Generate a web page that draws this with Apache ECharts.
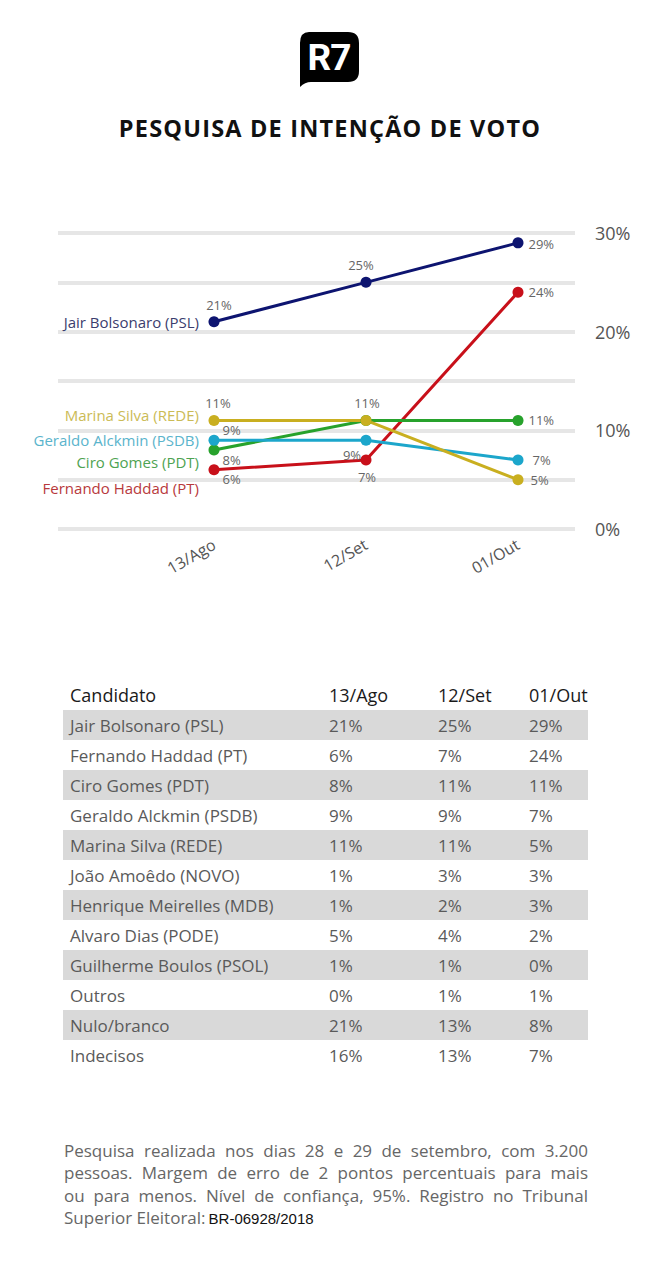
<!DOCTYPE html>
<html>
<head>
<meta charset="utf-8">
<script src="https://cdn.jsdelivr.net/npm/echarts@6/dist/echarts.min.js"></script>
<style>
  html, body { margin:0; padding:0; background:#fff; }
  body { width:660px; height:1281px; position:relative; overflow:hidden; font-family:'Open Sans', sans-serif; }
  #logo { position:absolute; left:298px; top:31px; }
  #title { position:absolute; left:0; width:660px; top:111px; text-align:center; font-weight:700; font-size:23.5px; letter-spacing:1.2px; color:#111; line-height:34px; }
  #chart { position:absolute; left:0; top:200px; width:660px; height:410px; }
  #tbl { position:absolute; left:63px; top:680px; width:525px; border-collapse:collapse; font-size:17px; }
  #tbl td { height:30px; padding:0 0 0 7px; color:#5a5a5a; white-space:nowrap; vertical-align:middle; }
  #tbl tr.hdr td { color:#1a1a1a; font-size:18px; }
  #tbl tr.g td { background:#d9d9d9; }
  #foot { position:absolute; left:64px; top:1140px; width:524px; font-size:17px; line-height:22.3px; color:#666; }
  #foot .ln { text-align:justify; text-align-last:justify; white-space:nowrap; }
  #foot .last { text-align:left; text-align-last:left; white-space:nowrap; }
  #foot .reg { font-family:'Liberation Sans', Arial, sans-serif; font-size:15px; color:#111; margin-left:3px; }
</style>
</head>
<body>
<svg id="logo" width="62" height="60" viewBox="0 0 62 60">
  <path d="M11 1 H50 Q61 1 61 12 V40 Q61 51 50 51 H13 Q7 51 2 56 V12 Q2 1 11 1 Z" fill="#000"/>
  <text x="31" y="39" text-anchor="middle" font-family="Roboto, sans-serif" font-weight="700" font-size="37" fill="#fff" letter-spacing="-1">R7</text>
</svg>
<div id="title">PESQUISA DE INTENÇÃO DE VOTO</div>
<div id="chart"></div>
<table id="tbl"></table>
<div id="foot">
  <div class="ln">Pesquisa realizada nos dias 28 e 29 de setembro, com 3.200</div>
  <div class="ln">pessoas. Margem de erro de 2 pontos percentuais para mais</div>
  <div class="ln">ou para menos. Nível de confiança, 95%. Registro no Tribunal</div>
  <div class="last">Superior Eleitoral:<span class="reg">BR-06928/2018</span></div>
</div>
<script>
// ---- Chart data ----
const dates = ['13/Ago', '12/Set', '01/Out'];
const yTicks = [0, 10, 20, 30];
const bolsonaro = [21, 25, 29];
const haddad = [6, 7, 24];
const ciro = [8, 11, 11];
const alckmin = [9, 9, 7];
const marina = [11, 11, 5];

// ---- Table data ----
const tableHeader = ['Candidato', '13/Ago', '12/Set', '01/Out'];
const candidates = ['Jair Bolsonaro (PSL)', 'Fernando Haddad (PT)', 'Ciro Gomes (PDT)', 'Geraldo Alckmin (PSDB)', 'Marina Silva (REDE)', 'João Amoêdo (NOVO)', 'Henrique Meirelles (MDB)', 'Alvaro Dias (PODE)', 'Guilherme Boulos (PSOL)', 'Outros', 'Nulo/branco', 'Indecisos'];
const colAgo = [21, 6, 8, 9, 11, 1, 1, 5, 1, 0, 21, 16];
const colSet = [25, 7, 11, 9, 11, 3, 2, 4, 1, 1, 13, 13];
const colOut = [29, 24, 11, 7, 5, 3, 3, 2, 0, 1, 8, 7];

// build table
(function(){
  const t = document.getElementById('tbl');
  const widths = [252, 102, 84, 59];
  let html = '<tr class="hdr">' + tableHeader.map((h,i)=>'<td style="width:'+widths[i]+'px">'+h+'</td>').join('') + '</tr>';
  candidates.forEach((c, i) => {
    html += '<tr class="' + (i % 2 === 0 ? 'g' : '') + '"><td>' + c + '</td><td>' + colAgo[i] + '%</td><td>' + colSet[i] + '%</td><td>' + colOut[i] + '%</td></tr>';
  });
  t.innerHTML = html;
})();

const FONT = 'Open Sans';
const valLabelBase = { show: true, fontSize: 13, color: '#666', fontFamily: FONT };

const seriesDefs = [
  { name: 'Jair Bolsonaro (PSL)', data: bolsonaro, color: '#0d1470', nameColor: '#3b3d6e', nameDy: 0,
    labels: [ {position:'top', offset:[5,0]}, {position:'top', offset:[-5,0]}, {position:'right', offset:[0,1]} ] },
  { name: 'Fernando Haddad (PT)', data: haddad, color: '#c8101a', nameColor: '#b8393c', nameDy: 18,
    labels: [ {position:'right', offset:[-2,9]}, {position:'bottom', offset:[1,0]}, {position:'right', offset:[0,0]} ] },
  { name: 'Ciro Gomes (PDT)', data: ciro, color: '#27a22c', nameColor: '#4ea352', nameDy: 12,
    labels: [ {position:'right', offset:[-2,10]}, {show:false}, {position:'right', offset:[0,0]} ] },
  { name: 'Geraldo Alckmin (PSDB)', data: alckmin, color: '#1ca6cb', nameColor: '#5ab4cc', nameDy: 0,
    labels: [ {position:'right', offset:[-2,-10]}, {position:'bottom', offset:[-14,-2]}, {position:'right', offset:[4,0]} ] },
  { name: 'Marina Silva (REDE)', data: marina, color: '#c9af20', nameColor: '#cbbb56', nameDy: -5,
    labels: [ {position:'top', offset:[4,0]}, {position:'top', offset:[1,0]}, {position:'right', offset:[2,0]} ] }
];

const series = seriesDefs.map(d => ({
  type: 'line',
  name: d.name,
  xAxisIndex: 1,
  yAxisIndex: 1,
  data: d.data.map((v, i) => ({
    value: v,
    label: Object.assign({}, valLabelBase, { formatter: v + '%' }, d.labels[i])
  })),
  lineStyle: { color: d.color, width: 3 },
  itemStyle: { color: d.color },
  symbol: 'circle',
  symbolSize: 11,
  silent: true,
  animation: false,
  markPoint: {
    symbol: 'circle',
    symbolSize: 0,
    silent: true,
    data: [{
      coord: [0, d.data[0]],
      label: { show: true, position: 'left', distance: 15, offset: [0, d.nameDy], formatter: d.name,
               fontSize: 15, color: d.nameColor, fontFamily: FONT }
    }]
  }
}));

const chart = echarts.init(document.getElementById('chart'), null, { renderer: 'svg' });
chart.setOption({
  animation: false,
  grid: [
    { left: 58, right: 85, top: 33, bottom: 81 },
    { left: 214, right: 142, top: 33, bottom: 81 }
  ],
  xAxis: [
    { type: 'value', gridIndex: 0, show: false, min: 0, max: 1 },
    { type: 'category', gridIndex: 1, data: dates, boundaryGap: false,
      axisLine: { show: false }, axisTick: { show: false }, splitLine: { show: false },
      axisLabel: { rotate: 30, margin: 14, fontSize: 16, color: '#555', fontFamily: FONT } }
  ],
  yAxis: [
    { type: 'value', gridIndex: 0, position: 'right', min: 0, max: 30, interval: 5,
      axisLine: { show: false }, axisTick: { show: false },
      splitLine: { show: true, lineStyle: { color: '#e6e6e6', width: 4 } },
      axisLabel: { margin: 20, fontSize: 18, color: '#555', fontFamily: FONT,
        formatter: v => (yTicks.indexOf(v) >= 0 ? v + '%' : '') } },
    { type: 'value', gridIndex: 1, min: 0, max: 30, show: false }
  ],
  series: series
});
</script>
</body>
</html>
